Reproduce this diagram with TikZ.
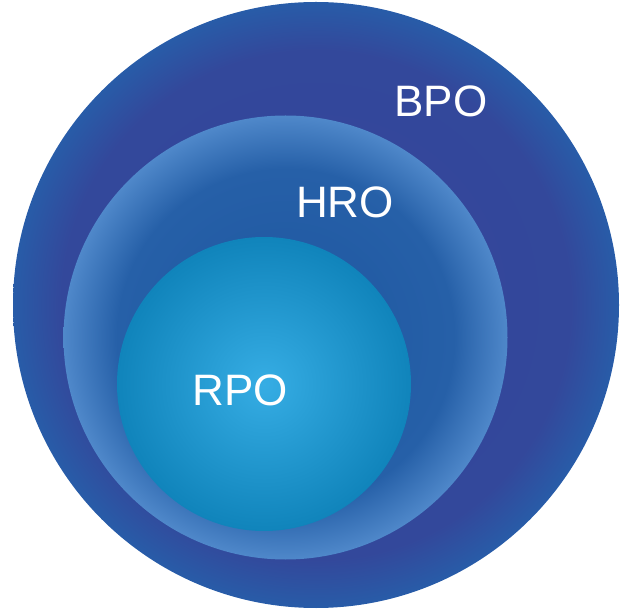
\documentclass[tikz,border=0pt]{standalone}
\usepackage{fontspec}
\setmainfont{Liberation Sans}
\definecolor{bpoIn}{HTML}{35449A}
\definecolor{bpoMid}{HTML}{33489B}
\definecolor{bpoOut}{HTML}{285CA8}
\definecolor{hroIn}{HTML}{1E56A0}
\definecolor{hroMid}{HTML}{2660A8}
\definecolor{hroOut}{HTML}{4F88CA}
\definecolor{rpoIn}{HTML}{36ADE4}
\definecolor{rpoOut}{HTML}{1084BB}
\pgfdeclareradialshading{bposhade}{\pgfpoint{0bp}{0bp}}{color(0bp)=(bpoIn); color(21bp)=(bpoMid); color(25bp)=(bpoOut); color(50bp)=(bpoOut)}
\pgfdeclareradialshading{hroshade}{\pgfpoint{0bp}{0bp}}{color(0bp)=(hroIn); color(19bp)=(hroMid); color(25bp)=(hroOut); color(50bp)=(hroOut)}
\pgfdeclareradialshading{rposhade}{\pgfpoint{0bp}{0bp}}{color(0bp)=(rpoIn); color(25bp)=(rpoOut); color(50bp)=(rpoOut)}
\tikzset{
  disc/.style={circle, inner sep=0pt, draw=none, minimum size=#1},
  lbl/.style={text=white, font=\fontsize{44}{44}\selectfont, inner sep=0pt}
}
\begin{document}
\begin{tikzpicture}[x=1pt,y=-1pt]
\useasboundingbox (0,0) rectangle (624,609);
\node[disc=606pt, shading=bposhade] (bpo) at (316,305) {};
\node[disc=444pt, shading=hroshade] (hro) at (285.5,337.5) {};
\node[disc=294pt, shading=rposhade] (rpo) at (264,384) {};
\node[lbl] (tb) at (441,101) {BPO};
\node[lbl] (th) at (345,202) {HRO};
\node[lbl] (tr) at (240,390) {RPO};
\end{tikzpicture}
\end{document}
